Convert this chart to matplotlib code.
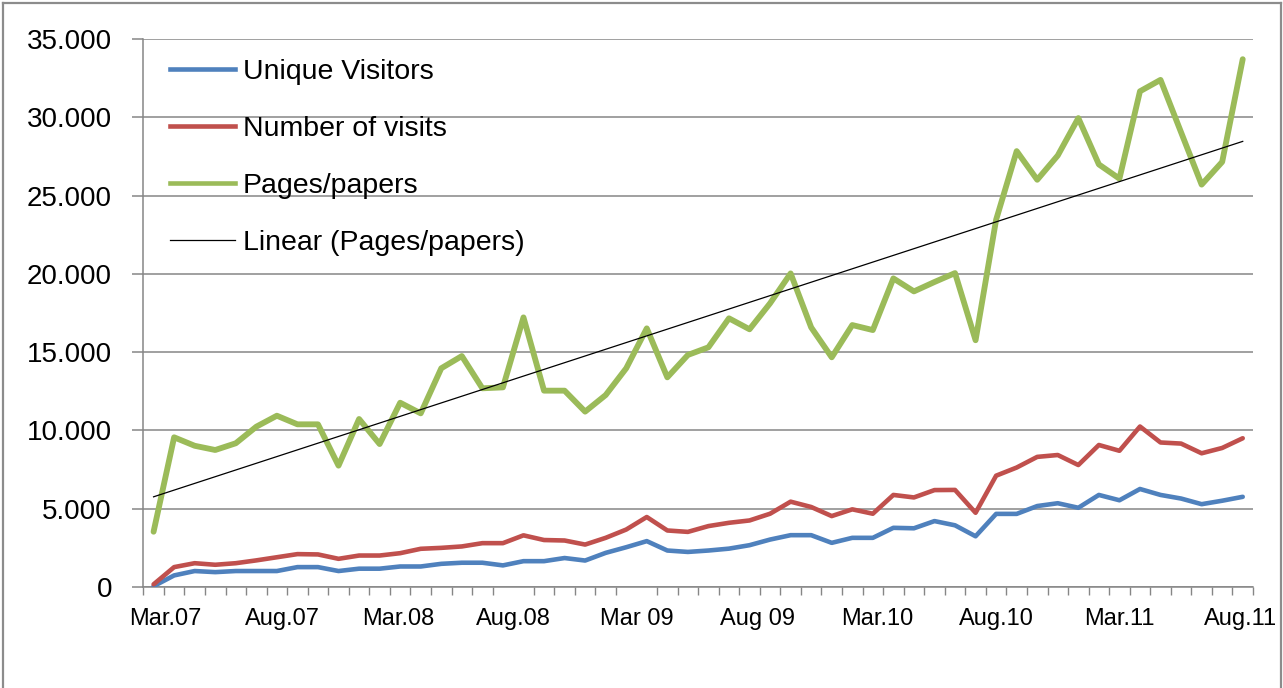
import matplotlib
matplotlib.use("Agg")
import matplotlib.pyplot as plt
import numpy as np
from matplotlib.lines import Line2D
from matplotlib.ticker import FuncFormatter, FixedLocator

unique_visitors = [50, 740, 1020, 950, 1020, 1020, 1020, 1270, 1270, 1020,
                   1170, 1170, 1310, 1310, 1480, 1550, 1550, 1380, 1650, 1650,
                   1850, 1690, 2180, 2540, 2930, 2330, 2240, 2330, 2450, 2670,
                   3030, 3310, 3310, 2820, 3140, 3140, 3780, 3750, 4210, 3940,
                   3240, 4670, 4670, 5170, 5350, 5060, 5880, 5540, 6260, 5880,
                   5650, 5290, 5510, 5760]
number_of_visits = [170, 1270, 1520, 1420, 1520, 1700, 1900, 2100, 2080, 1800,
                    2010, 2010, 2160, 2440, 2500, 2590, 2800, 2800, 3300, 3000,
                    2970, 2710, 3140, 3670, 4470, 3610, 3520, 3890, 4100, 4250,
                    4680, 5450, 5110, 4530, 4960, 4680, 5880, 5720, 6190, 6200,
                    4740, 7110, 7630, 8310, 8430, 7790, 9070, 8700, 10250, 9230,
                    9160, 8540, 8880, 9500]
pages_papers = [3530, 9560, 9020, 8750, 9180, 10240, 10940, 10390, 10390, 7750,
                10730, 9130, 11770, 11090, 13970, 14750, 12690, 12750, 17220, 12540,
                12540, 11200, 12260, 13970, 16520, 13390, 14820, 15310, 17160, 16460,
                18120, 20030, 16580, 14670, 16730, 16410, 19710, 18880, 19480, 20050,
                15760, 23460, 27840, 26010, 27560, 29950, 26990, 26080, 31660, 32390,
                29040, 25700, 27150, 33710]

x_labels = ["Mar.07", "Aug.07", "Mar.08", "Aug.08", "Mar 09",
            "Aug 09", "Mar.10", "Aug.10", "Mar.11", "Aug.11"]
x_label_pos = [0.55, 6.25, 11.9, 17.5, 23.5, 29.4, 35.2, 41.0, 47.0, 52.9]
y_ticks = [0, 5000, 10000, 15000, 20000, 25000, 30000, 35000]

W, H = 1283, 688
fig = plt.figure(figsize=(W / 100, H / 100), dpi=100)
fig.patch.set_facecolor("white")
ax = fig.add_axes([143.3 / W, 1 - 587 / H, (1253 - 143.3) / W, (587 - 39) / H])

n = len(pages_papers)
x = np.arange(n)

c_blue, c_red, c_green = "#4F81BD", "#C0504D", "#9BBB59"
grid_c = "#868686"

ax.plot(x, unique_visitors, color=c_blue, lw=3.3, solid_capstyle="round", solid_joinstyle="round", zorder=3)
ax.plot(x, number_of_visits, color=c_red, lw=3.3, solid_capstyle="round", solid_joinstyle="round", zorder=3)
ax.plot(x, pages_papers, color=c_green, lw=4.2, solid_capstyle="round", solid_joinstyle="round", zorder=3)
coef = np.polyfit(x, pages_papers, 1)
ax.plot(x, np.polyval(coef, x), color="black", lw=0.9, zorder=4)

ax.set_xlim(-0.5, n - 0.5)
ax.set_ylim(0, 35000)
ax.yaxis.set_major_locator(FixedLocator(y_ticks))
ax.yaxis.set_major_formatter(FuncFormatter(lambda v, p: f"{v:,.0f}".replace(",", ".")))
ax.yaxis.grid(True, color=grid_c, lw=1.1)
ax.set_axisbelow(True)

ax.xaxis.set_major_locator(FixedLocator(x_label_pos))
ax.set_xticklabels(x_labels)
ax.xaxis.set_minor_locator(FixedLocator(np.arange(-0.5, n, 1.0)))
ax.tick_params(axis="x", which="major", length=0, pad=15)
ax.tick_params(axis="x", which="minor", length=6, width=1.0, color=grid_c, direction="out")
ax.tick_params(axis="y", which="major", length=7.6, width=1.1, color=grid_c, direction="out", pad=15)

for lab in ax.get_yticklabels():
    lab.set_fontfamily(["Liberation Sans", "DejaVu Sans"])
    lab.set_fontsize(20)
for lab in ax.get_xticklabels():
    lab.set_fontfamily(["Liberation Sans", "DejaVu Sans"])
    lab.set_fontsize(17)

for s in ["top", "right"]:
    ax.spines[s].set_visible(False)
for s in ["left", "bottom"]:
    ax.spines[s].set_color(grid_c)
    ax.spines[s].set_linewidth(1.1)

handles = [Line2D([], [], color=c_blue, lw=3.3),
           Line2D([], [], color=c_red, lw=3.3),
           Line2D([], [], color=c_green, lw=3.3),
           Line2D([], [], color="black", lw=0.9)]
labels = ["Unique Visitors", "Number of visits", "Pages/papers", "Linear (Pages/papers)"]
leg = fig.legend(handles, labels, loc="upper left", bbox_to_anchor=(170 / W, 1 - 59 / H),
                 frameon=False, borderpad=0, borderaxespad=0, handlelength=2.3,
                 handletextpad=0.25, labelspacing=1.09,
                 prop={"family": ["Liberation Sans", "DejaVu Sans"], "size": 20.5})

# chart area border
border_c = "#8c8c8c"
fig.add_artist(Line2D([3 / W, 3 / W], [0, 1 - 3 / H], color=border_c, lw=1.6, transform=fig.transFigure))
fig.add_artist(Line2D([3 / W, 1281 / W], [1 - 3 / H, 1 - 3 / H], color=border_c, lw=1.6, transform=fig.transFigure))
fig.add_artist(Line2D([1281 / W, 1281 / W], [0, 1 - 3 / H], color=border_c, lw=1.6, transform=fig.transFigure))

fig.savefig("out.png", dpi=100)
